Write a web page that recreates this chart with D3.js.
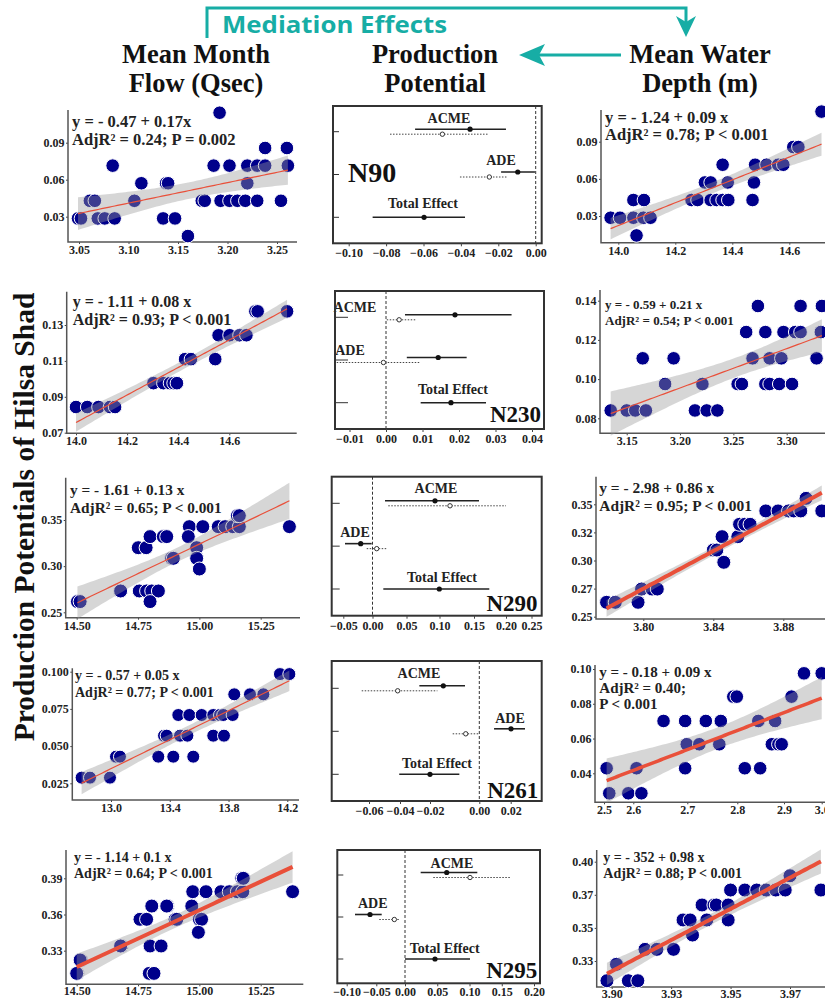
<!DOCTYPE html>
<html>
<head>
<meta charset="utf-8">
<title>Mediation effects - Hilsa shad</title>
<script src="https://cdn.jsdelivr.net/npm/d3@7"></script>
<style>
  body { margin: 0; background: #fff; }
  svg { font-family: "Liberation Serif", "Times New Roman", serif; font-weight: bold; }
</style>
</head>
<body>
<svg id="fig" width="825" height="1000"></svg>
<script>
// ---------- data ----------
const effects = ["ACME", "ADE", "Total Effect"];
const sites = ["N90", "N230", "N290", "N261", "N295"];

// mediation estimates: solid = point estimate with CI, B = second (dotted) estimate for ACME / ADE
const n90Est = [-0.0351, -0.0096, -0.0597], n90Lo = [-0.0645, -0.0185, -0.0872], n90Hi = [-0.0159, -0.0004, -0.0378];
const n90EstB = [-0.0499, -0.0248], n90LoB = [-0.0779, -0.0405], n90HiB = [-0.0253, -0.0150];
const n230Est = [0.0189, 0.0143, 0.0178], n230Lo = [0.0052, 0.0057, 0.0095], n230Hi = [0.0344, 0.0221, 0.0274];
const n230EstB = [0.0036, -0.0007], n230LoB = [0.0002, -0.0135], n230HiB = [0.0084, 0.0091];
const n290Est = [0.0932, -0.0202, 0.0997], n290Lo = [0.0184, -0.0471, 0.0159], n290Hi = [0.1578, -0.0014, 0.1739];
const n290EstB = [0.1152, 0.0062], n290LoB = [0.0232, -0.0099], n290HiB = [0.2000, 0.0218];
const n261Est = [-0.0146, 0.0202, -0.0200], n261Lo = [-0.0271, 0.0094, -0.0405], n261Hi = [-0.0058, 0.0291, -0.0081];
const n261EstB = [-0.0415, -0.0055], n261LoB = [-0.0647, -0.0108], n261HiB = [-0.0170, 0.0000];
const n295Est = [0.0647, -0.0606, 0.0465], n295Lo = [0.0243, -0.0860, 0.0000], n295Hi = [0.1121, -0.0406, 0.1008];
const n295EstB = [0.1008, -0.0186], n295LoB = [0.0439, -0.0448], n295HiB = [0.1628, -0.0087];

const n90Ticks = [-0.10, -0.08, -0.06, -0.04, -0.02, 0];
const n230Ticks = [-0.01, 0, 0.01, 0.02, 0.03, 0.04];
const n290Ticks = [-0.05, 0, 0.05, 0.10, 0.15, 0.20, 0.25];
const n261Ticks = [-0.06, -0.04, -0.02, 0, 0.02];
const n295Ticks = [-0.10, -0.05, 0, 0.05, 0.10, 0.15, 0.20];

// scatter points [x, production potential]
const flowN90 = [[3.049,0.0286],[3.052,0.0286],[3.061,0.0429],[3.066,0.0429],[3.069,0.0286],[3.076,0.0286],[3.086,0.0286],[3.084,0.0714],[3.106,0.0429],[3.113,0.0571],[3.138,0.0571],[3.140,0.0571],[3.135,0.0286],[3.147,0.0286],[3.160,0.0143],[3.174,0.0429],[3.177,0.0429],[3.186,0.0714],[3.192,0.1143],[3.193,0.0429],[3.202,0.0714],[3.202,0.0429],[3.210,0.0429],[3.218,0.0429],[3.220,0.0714],[3.220,0.0571],[3.230,0.0714],[3.238,0.0714],[3.230,0.0429],[3.238,0.0857],[3.254,0.0429],[3.260,0.0857],[3.261,0.0714]];
const depthN90 = [[13.973,0.0286],[14.006,0.0286],[14.053,0.0286],[14.088,0.0286],[14.113,0.0286],[14.053,0.0429],[14.090,0.0429],[14.064,0.0143],[14.257,0.0429],[14.278,0.0429],[14.324,0.0429],[14.345,0.0429],[14.366,0.0429],[14.386,0.0429],[14.304,0.0571],[14.324,0.0571],[14.366,0.0714],[14.384,0.0571],[14.471,0.0429],[14.476,0.0571],[14.480,0.0714],[14.520,0.0714],[14.561,0.0714],[14.579,0.0714],[14.614,0.0857],[14.632,0.0857],[14.713,0.1143]];
const flowN230 = [[14.000,0.0843],[14.044,0.0843],[14.088,0.0843],[14.133,0.0843],[14.153,0.0843],[14.303,0.0976],[14.342,0.0976],[14.368,0.0976],[14.382,0.0976],[14.395,0.0976],[14.427,0.1110],[14.450,0.1110],[14.545,0.1110],[14.558,0.1243],[14.601,0.1243],[14.640,0.1243],[14.667,0.1243],[14.702,0.1376],[14.711,0.1376],[14.826,0.1376]];
const depthN230 = [[3.135,0.0840],[3.150,0.0840],[3.158,0.0840],[3.168,0.0840],[3.214,0.0840],[3.225,0.0840],[3.235,0.0840],[3.186,0.0975],[3.221,0.0975],[3.254,0.0975],[3.258,0.0975],[3.280,0.0975],[3.284,0.0975],[3.293,0.0975],[3.305,0.0975],[3.165,0.1106],[3.194,0.1106],[3.268,0.1106],[3.284,0.1106],[3.295,0.1106],[3.328,0.1106],[3.262,0.1240],[3.280,0.1240],[3.297,0.1240],[3.308,0.1240],[3.313,0.1240],[3.332,0.1240],[3.273,0.1373],[3.313,0.1373],[3.333,0.1373]];
const flowN290 = [[14.503,0.2616],[14.514,0.2616],[14.677,0.2731],[14.679,0.2731],[14.755,0.2731],[14.785,0.2731],[14.806,0.2731],[14.833,0.2731],[14.799,0.2616],[14.751,0.3200],[14.783,0.3200],[14.799,0.3320],[14.853,0.3320],[14.867,0.3320],[14.887,0.3085],[14.894,0.3085],[14.959,0.3428],[14.955,0.3320],[14.989,0.3200],[14.989,0.3085],[15.000,0.2969],[15.014,0.3428],[15.077,0.3428],[15.105,0.3428],[15.136,0.3428],[15.163,0.3428],[15.155,0.3547],[15.163,0.3547],[15.367,0.3428]];
const depthN290 = [[3.779,0.2628],[3.784,0.2628],[3.797,0.2628],[3.799,0.2746],[3.805,0.2746],[3.808,0.2746],[3.840,0.3093],[3.842,0.3093],[3.846,0.2984],[3.845,0.3212],[3.854,0.3212],[3.855,0.3322],[3.858,0.3322],[3.861,0.3322],[3.870,0.3441],[3.877,0.3441],[3.883,0.3441],[3.886,0.3441],[3.890,0.3441],[3.893,0.3553],[3.902,0.3441]];
const flowN261 = [[12.800,0.0288],[12.857,0.0288],[12.993,0.0288],[13.034,0.0429],[13.061,0.0429],[13.322,0.0429],[13.424,0.0429],[13.560,0.0429],[13.361,0.0570],[13.379,0.0570],[13.470,0.0570],[13.520,0.0570],[13.696,0.0570],[13.769,0.0570],[13.458,0.0709],[13.533,0.0709],[13.617,0.0709],[13.696,0.0709],[13.742,0.0709],[13.764,0.0709],[13.828,0.0709],[13.839,0.0848],[13.946,0.0848],[14.037,0.0848],[14.150,0.0984],[14.214,0.0984]];
const depthN261 = [[2.509,0.0429],[2.518,0.0285],[2.583,0.0285],[2.615,0.0285],[2.606,0.0429],[2.656,0.0701],[2.696,0.0701],[2.737,0.0701],[2.767,0.0701],[2.696,0.0429],[2.699,0.0567],[2.724,0.0567],[2.764,0.0567],[2.792,0.0841],[2.799,0.0841],[2.845,0.0701],[2.881,0.0701],[2.816,0.0429],[2.849,0.0429],[2.874,0.0567],[2.888,0.0567],[2.895,0.0567],[2.920,0.0841],[2.953,0.0975],[3.000,0.0975]];
const flowN295 = [[14.503,0.3112],[14.500,0.3112],[14.518,0.3223],[14.514,0.3223],[14.683,0.3339],[14.679,0.3339],[14.758,0.3560],[14.785,0.3560],[14.806,0.3670],[14.799,0.3339],[14.844,0.3339],[14.796,0.3112],[14.815,0.3112],[14.871,0.3670],[14.867,0.3670],[14.901,0.3560],[14.908,0.3560],[14.969,0.3670],[14.973,0.3789],[15.000,0.3560],[15.009,0.3560],[14.996,0.3452],[15.027,0.3789],[15.088,0.3789],[15.122,0.3789],[15.155,0.3789],[15.177,0.3789],[15.173,0.3900],[15.179,0.3900],[15.380,0.3789]];
const depthN295 = [[3.898,0.3101],[3.902,0.3225],[3.907,0.3101],[3.911,0.3101],[3.914,0.3338],[3.919,0.3338],[3.926,0.3338],[3.930,0.3560],[3.933,0.3560],[3.934,0.3446],[3.938,0.3673],[3.940,0.3560],[3.943,0.3673],[3.944,0.3673],[3.949,0.3673],[3.949,0.3560],[3.950,0.3786],[3.956,0.3786],[3.961,0.3786],[3.965,0.3786],[3.969,0.3786],[3.973,0.3786],[3.975,0.3894],[3.988,0.3786]];

// fitted equations as printed
const eqFlowN90 = ["y = - 0.47 + 0.17x", "AdjR\u00b2 = 0.24; P = 0.002"];
const eqDepthN90 = ["y = - 1.24 + 0.09 x", "AdjR\u00b2 = 0.78; P < 0.001"];
const eqFlowN230 = ["y = - 1.11 + 0.08 x", "AdjR\u00b2 = 0.93; P < 0.001"];
const eqDepthN230 = ["y = - 0.59 + 0.21 x", "AdjR\u00b2 = 0.54; P < 0.001"];
const eqFlowN290 = ["y = - 1.61 + 0.13 x", "AdjR\u00b2 = 0.65; P < 0.001"];
const eqDepthN290 = ["y = - 2.98 + 0.86 x", "AdjR\u00b2 = 0.95; P < 0.001"];
const eqFlowN261 = ["y = - 0.57 + 0.05 x", "AdjR\u00b2 = 0.77; P < 0.001"];
const eqDepthN261 = ["y = - 0.18 + 0.09 x", "AdjR\u00b2 = 0.40;", "P < 0.001"];
const eqFlowN295 = ["y = - 1.14 + 0.1 x", "AdjR\u00b2 = 0.64; P < 0.001"];
const eqDepthN295 = ["y = - 352 + 0.98 x", "AdjR\u00b2 = 0.88; P < 0.001"];

// axis ticks
const xtFlowN90 = [3.05, 3.10, 3.15, 3.20, 3.25], ytN90 = [0.03, 0.06, 0.09];
const xtDepthN90 = [14.0, 14.2, 14.4, 14.6];
const xtFlowN230 = [14.0, 14.2, 14.4, 14.6], ytFlowN230 = [0.07, 0.09, 0.11, 0.13];
const xtDepthN230 = [3.15, 3.20, 3.25, 3.30], ytDepthN230 = [0.08, 0.10, 0.12, 0.14];
const xtFlowN290 = [14.50, 14.75, 15.00, 15.25], ytFlowN290 = [0.25, 0.30, 0.35];
const xtDepthN290 = [3.80, 3.84, 3.88], ytDepthN290 = [0.25, 0.275, 0.30, 0.325, 0.35];
const ylDepthN290 = ["0.25", "0.27", "0.30", "0.32", "0.35"];
const xtFlowN261 = [13.0, 13.4, 13.8, 14.2], ytFlowN261 = [0.025, 0.050, 0.075, 0.100];
const xtDepthN261 = [2.5, 2.6, 2.7, 2.8, 2.9, 3.0], ytDepthN261 = [0.04, 0.06, 0.08, 0.10];
const xtFlowN295 = [14.50, 14.75, 15.00, 15.25], ytFlowN295 = [0.33, 0.36, 0.39];
const xtDepthN295 = [3.900, 3.925, 3.950, 3.975], xlDepthN295 = ["3.90", "3.93", "3.95", "3.97"];
const ytDepthN295 = [0.325, 0.350, 0.375, 0.400], ylDepthN295 = ["0.33", "0.35", "0.37", "0.40"];

// ---------- drawing ----------
const svg = d3.select("#fig");
const teal = "#17ada5";
const navy = "#00008b";
const fitRed = "#e9503a";

svg.append("rect").attr("width", 825).attr("height", 1000).attr("fill", "#fff");

// header: mediation arrows
svg.append("path").attr("d", "M207,38V8H686V24").attr("fill", "none")
  .attr("stroke", teal).attr("stroke-width", 3);
svg.append("path").attr("d", "M686,37L676,16L686,22L696,16Z").attr("fill", teal);
svg.append("path").attr("d", "M621,55H538").attr("stroke", teal).attr("stroke-width", 3);
svg.append("path").attr("d", "M519,55L545,44L539,55L545,66Z").attr("fill", teal);
svg.append("text").attr("x", 222).attr("y", 33).text("Mediation Effects")
  .attr("font-family", "'Open Sans', Lato, sans-serif").attr("font-weight", 700).attr("font-size", 24)
  .attr("fill", teal).attr("textLength", 225).attr("lengthAdjust", "spacingAndGlyphs");

const heads = [["Mean Month", "Flow (Qsec)", 196], ["Production", "Potential", 435], ["Mean Water", "Depth (m)", 700]];
heads.forEach(h => {
  const t = svg.append("text").attr("text-anchor", "middle").attr("font-size", 26.5).attr("fill", "#111");
  t.append("tspan").attr("x", h[2]).attr("y", 63).text(h[0]);
  t.append("tspan").attr("x", h[2]).attr("y", 92).text(h[1]);
});

svg.append("text").attr("transform", "translate(34,517) rotate(-90)")
  .attr("text-anchor", "middle").attr("font-size", 29.5).attr("fill", "#111")
  .text("Production Potentials of Hilsa Shad");

function styleAxis(a) {
  a.select(".domain").remove();
  a.attr("font-family", '"Liberation Serif", "Times New Roman", serif')
    .attr("font-size", 12).attr("font-weight", "bold").attr("color", "#444");
  a.selectAll("text").attr("fill", "#222");
}

function scatter(L, pts, xt, yt, fmtX, fmtY, eq) {
  const x = d3.scaleLinear().domain(L.xd).range(L.xr);
  const y = d3.scaleLinear().domain(L.yd).range(L.yr);
  const [x0, x1, y0, y1] = L.box;
  const g = svg.append("g");

  g.append("g").attr("transform", `translate(0,${y1})`)
    .call(d3.axisBottom(x).tickValues(xt).tickFormat(fmtX).tickSize(2).tickPadding(L.pad == null ? 1.5 : L.pad))
    .call(styleAxis);
  g.append("g").attr("transform", `translate(${x0},0)`)
    .call(d3.axisLeft(y).tickValues(yt).tickFormat(fmtY).tickSize(2).tickPadding(1.5))
    .call(styleAxis);
  g.append("path").attr("d", `M${x0},${y0}V${y1}H${x1}`).attr("fill", "none")
    .attr("stroke", "#555").attr("stroke-width", 1.5);

  g.selectAll("circle").data(pts).join("circle")
    .attr("cx", d => x(d[0])).attr("cy", d => y(d[1])).attr("r", L.r)
    .attr("fill", navy).attr("stroke", "#fff").attr("stroke-width", 1);

  // linear fit with 95% confidence band (as geom_smooth(method = "lm"))
  const px = pts.map(d => x(d[0])), py = pts.map(d => d[1]);
  const n = px.length, mx = d3.mean(px), my = d3.mean(py);
  const sxx = d3.sum(px, v => (v - mx) ** 2);
  const b = d3.sum(px.map((v, i) => (v - mx) * (py[i] - my))) / sxx;
  const a = my - b * mx;
  const s = Math.sqrt(d3.sum(px.map((v, i) => (py[i] - a - b * v) ** 2)) / (n - 2));
  const tq = 1.96 + 2.4 / (n - 2);
  const lo = d3.min(px), hi = d3.max(px);
  const band = d3.range(81).map(i => {
    const v = lo + (hi - lo) * i / 80, f = a + b * v;
    const se = s * Math.sqrt(1 / n + (v - mx) ** 2 / sxx);
    return [v, f - tq * se, f + tq * se, f];
  });
  g.append("path").datum(band).attr("fill", "#999").attr("fill-opacity", 0.4)
    .attr("d", d3.area().x(d => d[0]).y0(d => y(d[1])).y1(d => y(d[2])));
  g.append("path").datum(band).attr("fill", "none").attr("stroke", fitRed)
    .attr("stroke-width", L.lw).attr("d", d3.line().x(d => d[0]).y(d => y(d[3])));

  const t = g.append("text").attr("font-size", L.eq[3]).attr("fill", "#222");
  eq.forEach((s, i) => t.append("tspan").attr("x", L.eq[0]).attr("y", L.eq[1] + i * L.eq[2]).text(s));
}

function forest(L, est, lo, hi, estB, loB, hiB, ticks, site) {
  const x = d3.scaleLinear().domain(L.xd).range(L.xr);
  const y = d3.scalePoint().domain(effects).range(L.yr);
  const [x0, x1, y0, y1] = L.box;
  const g = svg.append("g");

  g.append("line").attr("x1", x(0)).attr("x2", x(0)).attr("y1", y0).attr("y2", y1)
    .attr("stroke", "#333").attr("stroke-width", 1).attr("stroke-dasharray", "3,2");
  g.selectAll(".ytick").data(effects).join("line").attr("class", "ytick")
    .attr("x1", x0).attr("x2", x0 + L.tk).attr("y1", d => y(d)).attr("y2", d => y(d))
    .attr("stroke", "#333").attr("stroke-width", 1);

  const alt = estB.map((e, i) => ({ k: effects[i], e: e, lo: loB[i], hi: hiB[i] }));
  g.selectAll(".alt").data(alt).join("line").attr("class", "alt")
    .attr("x1", d => x(d.lo)).attr("x2", d => x(d.hi))
    .attr("y1", d => y(d.k) + 2.5).attr("y2", d => y(d.k) + 2.5)
    .attr("stroke", "#444").attr("stroke-width", 1).attr("stroke-dasharray", "1.5,1.5");
  g.selectAll(".altpt").data(alt).join("circle").attr("class", "altpt")
    .attr("cx", d => x(d.e)).attr("cy", d => y(d.k) + 2.5).attr("r", 2.2)
    .attr("fill", "#fff").attr("stroke", "#333").attr("stroke-width", 1);

  const main = est.map((e, i) => ({ k: effects[i], e: e, lo: lo[i], hi: hi[i], off: i < 2 ? -2.5 : 0 }));
  g.selectAll(".ci").data(main).join("line").attr("class", "ci")
    .attr("x1", d => x(d.lo)).attr("x2", d => x(d.hi))
    .attr("y1", d => y(d.k) + d.off).attr("y2", d => y(d.k) + d.off)
    .attr("stroke", "#222").attr("stroke-width", 1.6);
  g.selectAll(".pt").data(main).join("circle").attr("class", "pt")
    .attr("cx", d => x(d.e)).attr("cy", d => y(d.k) + d.off).attr("r", 2.6).attr("fill", "#111");

  g.selectAll(".lab").data(effects).join("text").attr("class", "lab")
    .attr("x", (d, i) => L.lab[i][0]).attr("y", (d, i) => L.lab[i][1])
    .attr("text-anchor", "middle").attr("font-size", 14).attr("fill", "#222").text(d => d);
  g.append("text").attr("x", L.tag[0]).attr("y", L.tag[1]).attr("text-anchor", L.tag[2])
    .attr("font-size", L.tag[3]).attr("fill", "#111").text(site);

  g.append("rect").attr("x", x0).attr("y", y0).attr("width", x1 - x0).attr("height", y1 - y0)
    .attr("fill", "none").attr("stroke", "#333").attr("stroke-width", 2);
  g.append("g").attr("transform", `translate(0,${y1})`)
    .call(d3.axisBottom(x).tickValues(ticks).tickFormat(d3.format(".2f")).tickSize(3).tickPadding(L.pad == null ? 2.5 : L.pad))
    .call(styleAxis);
}

// ---------- layout ----------
const f2 = d3.format(".2f"), f1 = d3.format(".1f"), f3 = d3.format(".3f");
const lbl = arr => (d, i) => arr[i];

scatter({ box: [68, 297, 110, 242], xd: [3.05, 3.25], xr: [79, 277], yd: [0.03, 0.09], yr: [216.7, 142.7], r: 6.8, lw: 1.2, eq: [72, 127, 18, 16.5] },
  flowN90, xtFlowN90, ytN90, f2, f2, eqFlowN90);
scatter({ box: [601, 840, 110, 242.7], xd: [14.0, 14.6], xr: [618.3, 789.3], yd: [0.03, 0.09], yr: [216, 141.7], r: 6.8, lw: 1.2, eq: [605, 122.7, 17.3, 16.5] },
  depthN90, xtDepthN90, ytN90, f1, f2, eqDepthN90);
scatter({ box: [66.7, 296.7, 291.7, 433.3], xd: [14.0, 14.6], xr: [76, 229.3], yd: [0.07, 0.13], yr: [432.7, 325], r: 6.8, lw: 1.2, eq: [72.7, 307.3, 17.7, 16] },
  flowN230, xtFlowN230, ytFlowN230, f1, f2, eqFlowN230);
scatter({ box: [600, 840, 290, 433.3], xd: [3.15, 3.30], xr: [626.7, 786.7], yd: [0.08, 0.14], yr: [418.3, 300.7], r: 6.8, lw: 1.2, eq: [605, 309.3, 15.7, 13] },
  depthN230, xtDepthN230, ytDepthN230, f2, f2, eqDepthN230);
scatter({ box: [65.7, 300, 477.7, 617.7], xd: [14.5, 15.25], xr: [76.7, 260.7], yd: [0.25, 0.35], yr: [612.3, 520], r: 7, lw: 1.2, eq: [70, 495, 17.7, 15.3] },
  flowN290, xtFlowN290, ytFlowN290, f2, f2, eqFlowN290);
scatter({ box: [596, 840, 476.7, 619], xd: [3.80, 3.88], xr: [643.3, 783.3], yd: [0.25, 0.35], yr: [616.7, 504.3], r: 7, lw: 4, eq: [599.3, 493.3, 17.4, 15.4] },
  depthN290, xtDepthN290, ytDepthN290, f2, lbl(ylDepthN290), eqDepthN290);
scatter({ box: [72.3, 299, 668.3, 800], xd: [13.0, 14.2], xr: [111, 287.3], yd: [0.025, 0.100], yr: [783.3, 671.7], r: 6.5, lw: 1.2, eq: [75, 680, 16.7, 14] },
  flowN261, xtFlowN261, ytFlowN261, f1, f3, eqFlowN261);
scatter({ box: [595, 840, 665, 802.3], xd: [2.5, 2.6, 2.7, 2.8, 2.9, 3.0], xr: [604, 633.3, 687.3, 737.3, 784, 821.7], yd: [0.04, 0.10], yr: [773.3, 669], r: 6.8, lw: 3.5, eq: [599.3, 676.7, 16.2, 15] },
  depthN261, xtDepthN261, ytDepthN261, f1, f2, eqDepthN261);
scatter({ box: [66, 303.3, 850, 984.3], xd: [14.5, 15.25], xr: [76.7, 260.7], yd: [0.33, 0.39], yr: [950.7, 878.3], r: 7, lw: 4, pad: 0.5, eq: [74, 862.3, 15.4, 14] },
  flowN295, xtFlowN295, ytFlowN295, f2, f2, eqFlowN295);
scatter({ box: [596.7, 840, 850, 987], xd: [3.90, 3.975], xr: [611.7, 790], yd: [0.325, 0.40], yr: [961, 861.7], r: 7, lw: 4, pad: 0, eq: [603.3, 861.7, 16, 14] },
  depthN295, xtDepthN295, ytDepthN295, lbl(xlDepthN295), lbl(ylDepthN295), eqDepthN295);

forest({ box: [333, 541.7, 106, 243.3], xd: [-0.10, 0], xr: [348.7, 535.7], yr: [131.7, 217.3], tk: 6,
  lab: [[449, 123], [501, 165], [423, 208]], tag: [348, 181.7, "start", 28] },
  n90Est, n90Lo, n90Hi, n90EstB, n90LoB, n90HiB, n90Ticks, sites[0]);
forest({ box: [335, 544, 291, 429], xd: [-0.01, 0.04], xr: [349.5, 532], yr: [317.3, 402.7], tk: 13,
  lab: [[355, 312.3], [350, 355], [453, 394]], tag: [541, 421.7, "end", 23] },
  n230Est, n230Lo, n230Hi, n230EstB, n230LoB, n230HiB, n230Ticks, sites[1]);
forest({ box: [331.7, 541.7, 476.7, 615.7], xd: [-0.05, 0, 0.05, 0.10, 0.15, 0.20, 0.25], xr: [343.3, 372.5, 406.5, 439.5, 474, 506, 531.5], yr: [503.3, 589], tk: 8,
  lab: [[436, 493.3], [355, 536.7], [442, 582.3]], tag: [537.5, 610.7, "end", 23] },
  n290Est, n290Lo, n290Hi, n290EstB, n290LoB, n290HiB, n290Ticks, sites[2]);
forest({ box: [331.7, 541.7, 661, 801], xd: [-0.06, -0.04, -0.02, 0, 0.02], xr: [369, 400, 430, 479.3, 510.7], yr: [688.3, 774.3], tk: 7,
  lab: [[419, 678.3], [510, 723.3], [437, 767.7]], tag: [538.3, 797.7, "end", 23] },
  n261Est, n261Lo, n261Hi, n261EstB, n261LoB, n261HiB, n261Ticks, sites[3]);
forest({ box: [337.3, 540, 850, 983.3], xd: [-0.10, -0.05, 0, 0.20], xr: [346.7, 376.3, 405, 534], yr: [875, 959], tk: 6, pad: 1.5,
  lab: [[452, 867.7], [372.7, 908.3], [444.7, 953.3]], tag: [537.3, 977.7, "end", 23] },
  n295Est, n295Lo, n295Hi, n295EstB, n295LoB, n295HiB, n295Ticks, sites[4]);
</script>
</body>
</html>
